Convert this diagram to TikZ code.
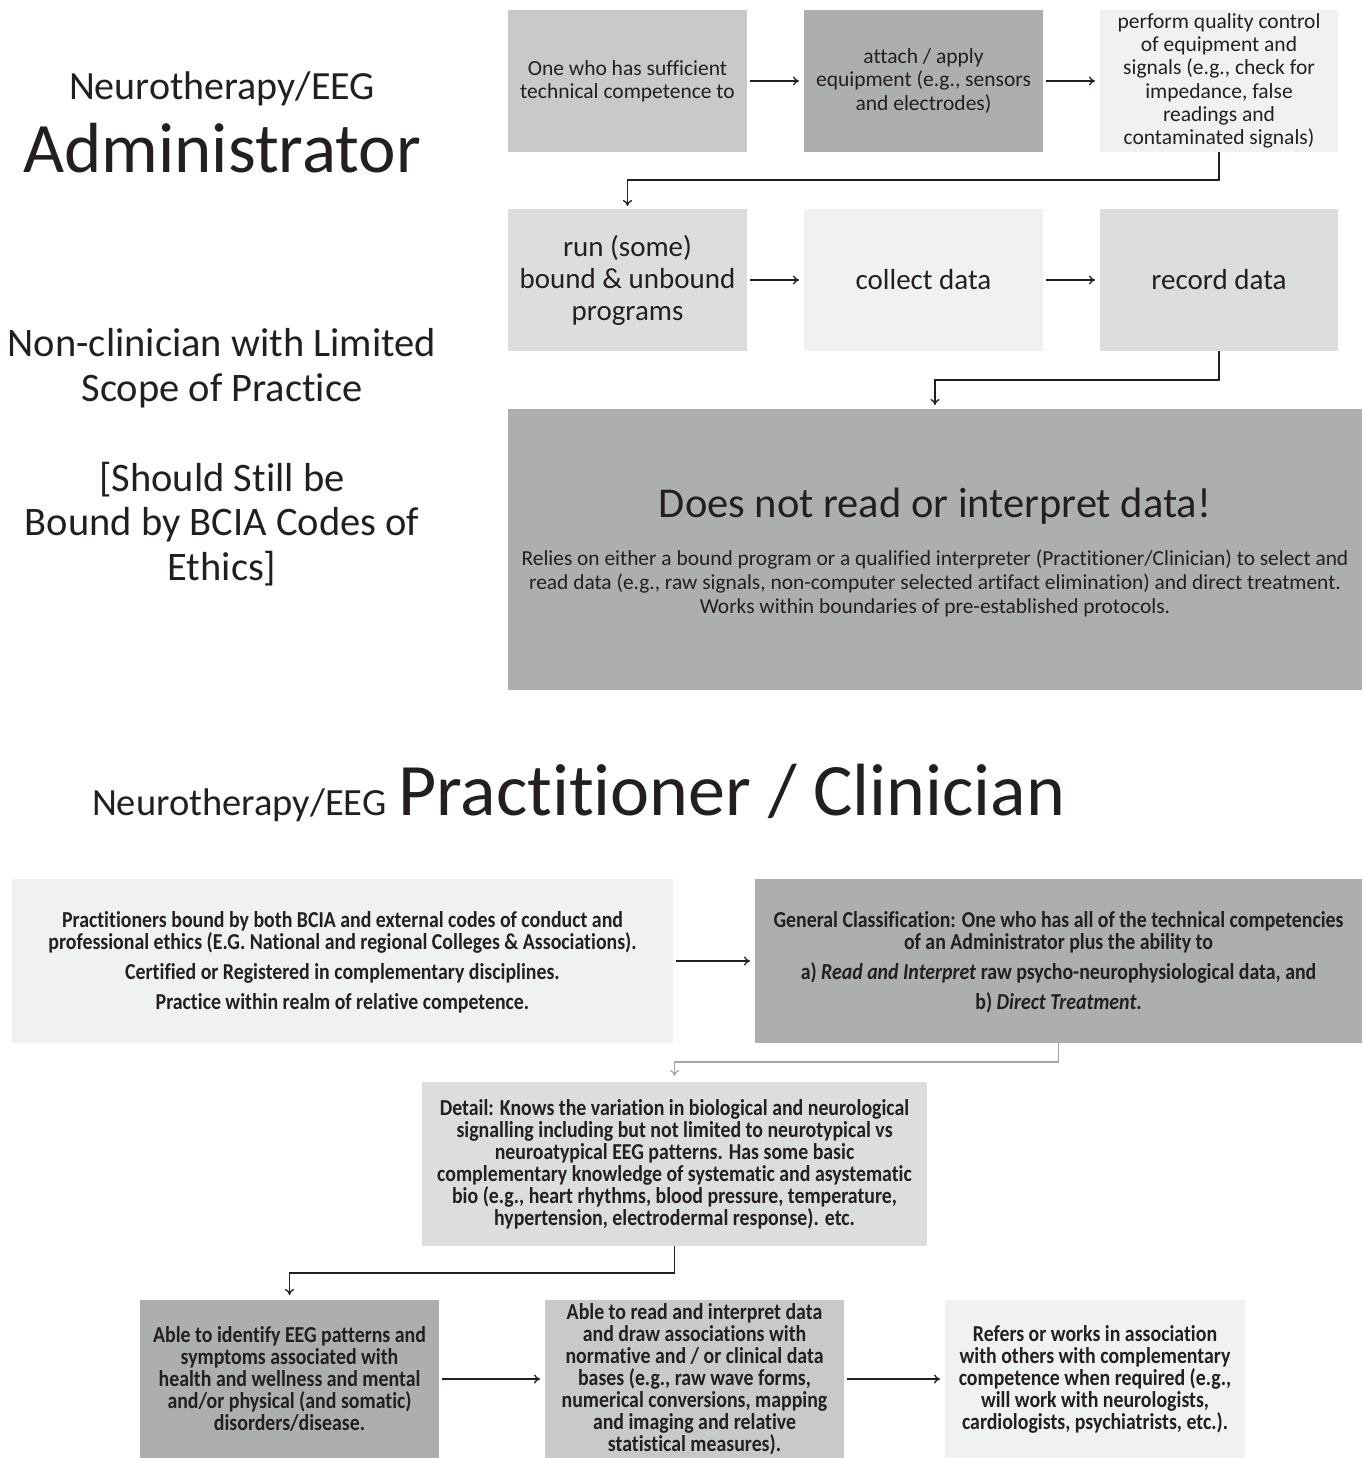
\documentclass[tikz,border=0pt]{standalone}
\usepackage{fontspec}
\setmainfont{Carlito}[Ligatures=NoCommon]
\newfontfamily\cond{Carlito}[FakeStretch=0.87,Ligatures=NoCommon]
\usetikzlibrary{arrows.meta}
\definecolor{gdark}{HTML}{ADAEB0}
\definecolor{gmid}{HTML}{C8C9CB}
\definecolor{glight}{HTML}{DCDDDF}
\definecolor{gpale}{HTML}{F0F1F2}
\definecolor{ink}{HTML}{231F20}
\begin{document}
\begin{tikzpicture}[x=1pt,y=-1pt,
  box/.style={rectangle,inner sep=0pt,outer sep=0pt,align=center,text=ink},
  smallt/.style={font=\fontsize{21.5}{23.3}\selectfont},
  bigt/.style={font=\fontsize{29}{32}\selectfont},
  condt/.style={font=\cond\bfseries\fontsize{22.8}{22}\selectfont},
  arr/.style={draw=ink,line width=1.3pt,-{To[length=6pt,width=9pt]}},
  garr/.style={draw=gray!70,line width=1.2pt,-{To[length=6pt,width=9pt]}}
]
\useasboundingbox (0,0) rectangle (1364,1458);
% left titles
\node[box,font=\fontsize{40}{44}\selectfont] (t1) at (222,89) {Neurotherapy/EEG};
\node[box,font=\fontsize{71}{76}\selectfont] (t2) at (222,148) {Administrator};
\node[box,font=\fontsize{40.5}{44.5}\selectfont] (t3) at (222,368) {Non-clinician with Limited\\Scope of Practice};
\node[box,font=\fontsize{40.5}{44.5}\selectfont] (t4) at (222,524) {[Should Still be\\Bound by BCIA Codes of\\Ethics]};
% row 1
\node[box,fill=gmid,minimum width=239,minimum height=142,smallt] (a1) at (627.5,81) {One who has sufficient\\technical competence to};
\node[box,fill=gdark,minimum width=239,minimum height=142,smallt] (a2) at (923.5,81) {attach / apply\\equipment (e.g., sensors\\and electrodes)};
\node[box,fill=gpale,minimum width=238,minimum height=142,smallt] (a3) at (1219,81) {perform quality control\\of equipment and\\signals (e.g., check for\\impedance, false\\readings and\\contaminated signals)};
% row 2
\node[box,fill=glight,minimum width=239,minimum height=142,bigt] (b1) at (627.5,280) {run (some)\\bound \& unbound\\programs};
\node[box,fill=gpale,minimum width=239,minimum height=142,bigt] (b2) at (923.5,280) {collect data};
\node[box,fill=glight,minimum width=238,minimum height=142,bigt] (b3) at (1219,280) {record data};
% big box
\node[box,fill=gdark,minimum width=854,minimum height=281] (c) at (935,549.5) {};
\node[box,font=\fontsize{42.5}{46}\selectfont] (ct) at (935,506) {Does not read or interpret data!};
\node[box,font=\fontsize{21.4}{24}\selectfont] (cb) at (935,583) {Relies on either a bound program or a qualified interpreter (Practitioner/Clinician) to select and\\read data (e.g., raw signals, non-computer selected artifact elimination) and direct treatment.\\Works within boundaries of pre-established protocols.};
% connectors top
\draw[arr] ([xshift=3]a1.east) -- ([xshift=-5]a2.west);
\draw[arr] ([xshift=3]a2.east) -- ([xshift=-5]a3.west);
\draw[arr] (a3.south) -- ++(0,28) -| ([yshift=3]b1.north);
\draw[arr] ([xshift=3]b1.east) -- ([xshift=-5]b2.west);
\draw[arr] ([xshift=3]b2.east) -- ([xshift=-5]b3.west);
\draw[arr] (b3.south) -- ++(0,29) -| ([yshift=4]c.north);
% practitioner title
\node[box,font=\fontsize{38.5}{42}\selectfont,anchor=base west] (pt1) at (92,815) {Neurotherapy/EEG};
\node[box,font=\fontsize{74}{78}\selectfont,anchor=base west] (pt2) at (398,815) {Practitioner / Clinician};
% bottom boxes
\node[box,fill=gpale,minimum width=661,minimum height=164] (p1) at (342.5,961) {};
\node[box,condt] (p1t) at (342.5,962) {Practitioners bound by both BCIA and external codes of conduct and\\professional ethics (E.G. National and regional Colleges \& Associations).\\[8pt]Certified or Registered in complementary disciplines.\\[8pt]Practice within realm of relative competence.};
\node[box,fill=gdark,minimum width=607,minimum height=164] (p2) at (1058.5,961) {};
\node[box,condt] (p2t) at (1058.5,962) {General Classification: One who has all of the technical competencies\\of an Administrator plus the ability to\\[8pt]a) \textit{Read and Interpret} raw psycho-neurophysiological data, and\\[8pt]b) \textit{Direct Treatment}.};
\node[box,fill=glight,minimum width=505,minimum height=164,condt] (p3) at (674.5,1164) {Detail: Knows the variation in biological and neurological\\signalling including but not limited to neurotypical vs\\neuroatypical EEG patterns. Has some basic\\complementary knowledge of systematic and asystematic\\bio (e.g., heart rhythms, blood pressure, temperature,\\hypertension, electrodermal response). etc.};
\node[box,fill=gdark,minimum width=299,minimum height=158,condt] (p4) at (289.5,1379) {Able to identify EEG patterns and\\symptoms associated with\\health and wellness and mental\\and/or physical (and somatic)\\disorders/disease.};
\node[box,fill=gmid,minimum width=299,minimum height=158,condt] (p5) at (694.5,1379) {Able to read and interpret data\\and draw associations with\\normative and / or clinical data\\bases (e.g., raw wave forms,\\numerical conversions, mapping\\and imaging and relative\\statistical measures).};
\node[box,fill=gpale,minimum width=300,minimum height=158,condt] (p6) at (1095,1379) {Refers or works in association\\with others with complementary\\competence when required (e.g.,\\will work with neurologists,\\cardiologists, psychiatrists, etc.).};
% bottom connectors
\draw[arr] ([xshift=3]p1.east) -- ([xshift=-5]p2.west);
\draw[garr] (p2.south) -- ++(0,19) -| ([yshift=6]p3.north);
\draw[arr] (p3.south) -- ++(0,27) -| ([yshift=5]p4.north);
\draw[arr] ([xshift=3]p4.east) -- ([xshift=-5]p5.west);
\draw[arr] ([xshift=3]p5.east) -- ([xshift=-5]p6.west);
\end{tikzpicture}
\end{document}
